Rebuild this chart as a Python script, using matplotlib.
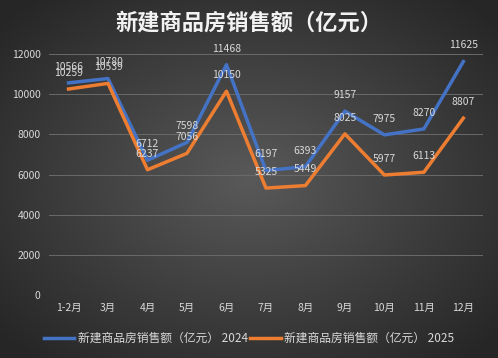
import numpy as np
import matplotlib
matplotlib.use("Agg")
import matplotlib.pyplot as plt

plt.rcParams['font.family'] = ['Noto Sans CJK SC', 'DejaVu Sans']

months = ["1-2月", "3月", "4月", "5月", "6月", "7月", "8月", "9月", "10月", "11月", "12月"]
sales_2024 = [10566, 10780, 6712, 7598, 11468, 6197, 6393, 9157, 7975, 8270, 11625]
sales_2025 = [10259, 10539, 6237, 7056, 10150, 5325, 5449, 8025, 5977, 6113, 8807]
yticks = [0, 2000, 4000, 6000, 8000, 10000, 12000]

txt_col = "#d9d9d9"

fig = plt.figure(figsize=(4.98, 3.58), dpi=100)

# radial gradient background
bg = fig.add_axes([0, 0, 1, 1])
yy, xx = np.mgrid[-1:1:200j, -1:1:280j]
r = np.sqrt(xx**2 + yy**2)
shade = np.clip(0.35 - 0.15 * r, 0.15, 0.35)
bg.imshow(np.dstack([shade, shade, shade]), aspect="auto", extent=[0, 1, 0, 1])
bg.axis("off")

ax = fig.add_axes([0.098, 0.176, 0.872, 0.673])
ax.patch.set_alpha(0)
x = np.arange(len(months))
ax.plot(x, sales_2024, color="#4472C4", lw=2.5, label="新建商品房销售额（亿元） 2024")
ax.plot(x, sales_2025, color="#ED7D31", lw=2.5, label="新建商品房销售额（亿元） 2025")

for xi, v in zip(x, sales_2024):
    ax.annotate(str(v), (xi, v), xytext=(0, 8), textcoords="offset points",
                ha="center", va="bottom", color=txt_col, fontsize=7.5)
for xi, v in zip(x, sales_2025):
    ax.annotate(str(v), (xi, v), xytext=(0, 8), textcoords="offset points",
                ha="center", va="bottom", color=txt_col, fontsize=7.5)

ax.set_xlim(-0.5, len(months) - 0.5)
ax.set_ylim(0, 12000)
ax.set_yticks(yticks)
ax.set_xticks(x)
ax.set_xticklabels(months)
ax.tick_params(colors=txt_col, labelsize=7.5, length=0, pad=6)
ax.grid(axis="y", color="#6a6a6a", lw=0.7)
ax.set_axisbelow(True)
for s in ax.spines.values():
    s.set_visible(False)

fig.text(0.5, 0.935, "新建商品房销售额（亿元）", ha="center", va="center",
         color="#f2f2f2", fontsize=16, fontweight="bold")

leg = fig.legend(loc="center", bbox_to_anchor=(0.5, 0.055), ncol=2, frameon=False,
                 fontsize=8.5, handlelength=2.6, columnspacing=0.2, handletextpad=0.3)
for t in leg.get_texts():
    t.set_color(txt_col)

fig.savefig("out.png", dpi=100)
